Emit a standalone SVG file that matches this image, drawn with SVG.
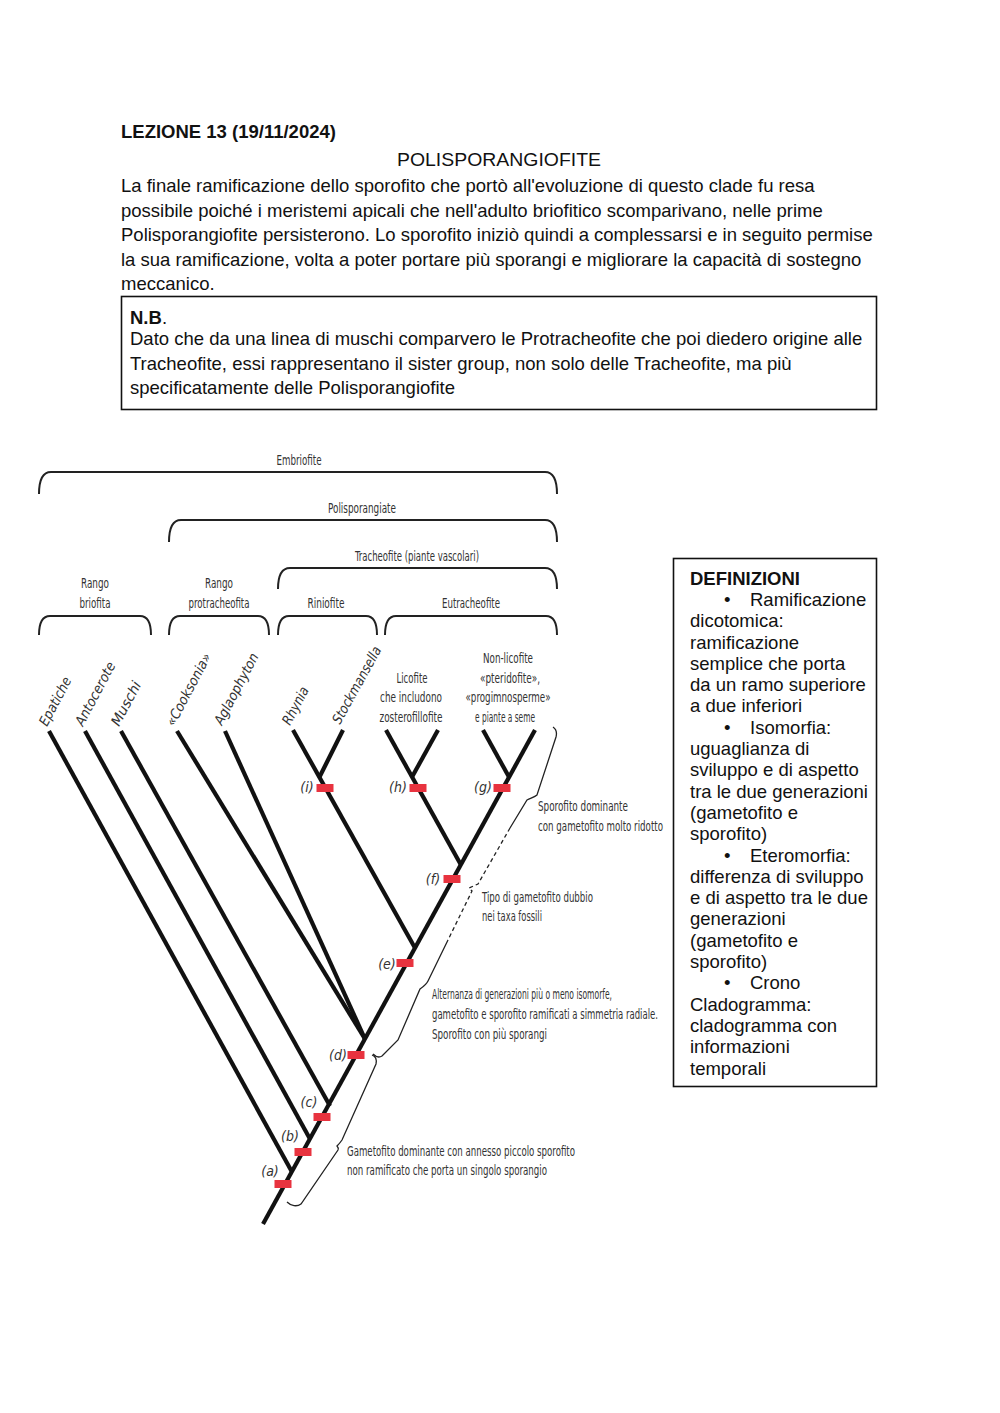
<svg xmlns="http://www.w3.org/2000/svg" width="1000" height="1413" viewBox="0 0 1000 1413">
<style>
.t{font-family:"Liberation Sans",Arial,sans-serif;font-size:18.5px;fill:#111}
.b{font-weight:bold}
.d{font-family:"Liberation Sans Narrow","DejaVu Sans Condensed","Liberation Sans",sans-serif;font-size:14px;fill:#333}
.i{font-style:italic}
.m{text-anchor:middle}
.br{stroke:#111;stroke-width:4.2;fill:none}
.bk{stroke:#222;stroke-width:2;fill:none}
.bc{stroke:#222;stroke-width:1.3;fill:none}
.ds{stroke-dasharray:4 3}
.mk{fill:#e8333f}
.box{fill:none;stroke:#111;stroke-width:1.6}
</style>
<rect width="1000" height="1413" fill="#fff"/>

<g id="header">
<text class="t b" x="121" y="138">LEZIONE 13 (19/11/2024)</text>
<text class="t" x="397" y="166" font-size="17" textLength="204" lengthAdjust="spacingAndGlyphs">POLISPORANGIOFITE</text>
<text class="t" x="121" y="192">La finale ramificazione dello sporofito che portò all'evoluzione di questo clade fu resa</text>
<text class="t" x="121" y="216.5">possibile poiché i meristemi apicali che nell'adulto briofitico scomparivano, nelle prime</text>
<text class="t" x="121" y="241">Polisporangiofite persisterono. Lo sporofito iniziò quindi a complessarsi e in seguito permise</text>
<text class="t" x="121" y="265.5">la sua ramificazione, volta a poter portare più sporangi e migliorare la capacità di sostegno</text>
<text class="t" x="121" y="290">meccanico.</text>
</g>

<g id="nb-box">
<rect class="box" x="121.5" y="296.5" width="755" height="113"/>
<text class="t" x="130" y="324"><tspan class="b">N.B</tspan>.</text>
<text class="t" x="130" y="345">Dato che da una linea di muschi comparvero le Protracheofite che poi diedero origine alle</text>
<text class="t" x="130" y="369.5">Tracheofite, essi rappresentano il sister group, non solo delle Tracheofite, ma più</text>
<text class="t" x="130" y="394">specificatamente delle Polisporangiofite</text>
</g>

<g id="definizioni">
<rect class="box" x="673.5" y="558.5" width="203" height="528"/>
<text class="t b" x="690" y="584.6">DEFINIZIONI</text>
<text class="t" x="724" y="605.9">•<tspan x="750">Ramificazione</tspan></text>
<text class="t" x="690" y="627.2">dicotomica:</text>
<text class="t" x="690" y="648.5">ramificazione</text>
<text class="t" x="690" y="669.8">semplice che porta</text>
<text class="t" x="690" y="691.1">da un ramo superiore</text>
<text class="t" x="690" y="712.4">a due inferiori</text>
<text class="t" x="724" y="733.7">•<tspan x="750">Isomorfia:</tspan></text>
<text class="t" x="690" y="755">uguaglianza di</text>
<text class="t" x="690" y="776.3">sviluppo e di aspetto</text>
<text class="t" x="690" y="797.6">tra le due generazioni</text>
<text class="t" x="690" y="818.9">(gametofito e</text>
<text class="t" x="690" y="840.2">sporofito)</text>
<text class="t" x="724" y="861.5">•<tspan x="750">Eteromorfia:</tspan></text>
<text class="t" x="690" y="882.8">differenza di sviluppo</text>
<text class="t" x="690" y="904.1">e di aspetto tra le due</text>
<text class="t" x="690" y="925.4">generazioni</text>
<text class="t" x="690" y="946.7">(gametofito e</text>
<text class="t" x="690" y="968">sporofito)</text>
<text class="t" x="724" y="989.3">•<tspan x="750">Crono</tspan></text>
<text class="t" x="690" y="1010.6">Cladogramma:</text>
<text class="t" x="690" y="1031.9">cladogramma con</text>
<text class="t" x="690" y="1053.2">informazioni</text>
<text class="t" x="690" y="1074.5">temporali</text>
</g>

<g id="clade-brackets">
<g id="clade-embriofite">
<path class="bk" d="M39,494 C39,481 42,472 51,472 L545,472 C554,472 557,481 557,494"/>
<text class="d m" x="299" y="465" textLength="45" lengthAdjust="spacingAndGlyphs">Embriofite</text>
</g>
<g id="clade-polisporangiate">
<path class="bk" d="M169,542 C169,529 172,520 181,520 L545,520 C554,520 557,529 557,542"/>
<text class="d m" x="362" y="513" textLength="68" lengthAdjust="spacingAndGlyphs">Polisporangiate</text>
</g>
<g id="clade-tracheofite">
<path class="bk" d="M278,589 C278,577 281,568 290,568 L545,568 C554,568 557,577 557,589"/>
<text class="d m" x="417" y="561" textLength="124" lengthAdjust="spacingAndGlyphs">Tracheofite (piante vascolari)</text>
</g>
<g id="clade-briofita">
<path class="bk" d="M39,635 C39,624 42,616 50,616 L140,616 C148,616 151,624 151,635"/>
<text class="d m" x="95" y="588" textLength="28" lengthAdjust="spacingAndGlyphs">Rango</text>
<text class="d m" x="95" y="608" textLength="31" lengthAdjust="spacingAndGlyphs">briofita</text>
</g>
<g id="clade-protracheofita">
<path class="bk" d="M169,635 C169,624 172,616 180,616 L258,616 C266,616 269,624 269,635"/>
<text class="d m" x="219" y="588" textLength="28" lengthAdjust="spacingAndGlyphs">Rango</text>
<text class="d m" x="219" y="608" textLength="61" lengthAdjust="spacingAndGlyphs">protracheofita</text>
</g>
<g id="clade-riniofite">
<path class="bk" d="M278,635 C278,624 281,616 289,616 L366,616 C374,616 377,624 377,635"/>
<text class="d m" x="326" y="608" textLength="37" lengthAdjust="spacingAndGlyphs">Riniofite</text>
</g>
<g id="clade-eutracheofite">
<path class="bk" d="M385,635 C385,624 388,616 396,616 L546,616 C554,616 557,624 557,635"/>
<text class="d m" x="471" y="608" textLength="58" lengthAdjust="spacingAndGlyphs">Eutracheofite</text>
</g>
</g>

<g id="connectors">
<line class="br" x1="263" y1="1224" x2="535" y2="730"/>
<line class="br" x1="49" y1="731" x2="292" y2="1172"/>
<line class="br" x1="85" y1="731" x2="310" y2="1139"/>
<line class="br" x1="121" y1="731" x2="330" y2="1106"/>
<line class="br" x1="177" y1="731" x2="365" y2="1039"/>
<line class="br" x1="225" y1="731" x2="365" y2="1039"/>
<line class="br" x1="293" y1="730" x2="415" y2="948"/>
<line class="br" x1="343" y1="730" x2="319" y2="778"/>
<line class="br" x1="386" y1="730" x2="461" y2="865"/>
<line class="br" x1="438" y1="730" x2="412" y2="777"/>
<line class="br" x1="483" y1="730" x2="509" y2="777"/>
</g>

<g id="braces">
<path class="bc" d="M553,727 C556,729 557,733 556,737 L537,795 C535,797 531,798 527,800 L510,828"/>
<path class="bc ds" d="M510,828 L478,884 L469,888 L472,891 L448,940"/>
<path class="bc" d="M448,940 L428,981 C426,985 423,987 420,989 L398,1040 L382,1056 C379,1058 376,1057 373,1054"/>
<path class="bc" d="M372,1055 C375,1056 377,1059 376,1064 L342,1140 C340,1143 338,1145 337,1146 C338,1147 339,1148 338,1150 L301,1204 C297,1207 291,1206 287,1202"/>
</g>

<g id="taxa">
<g id="taxon-epatiche"><text class="d i" transform="translate(47,727) rotate(-62)" textLength="53" lengthAdjust="spacingAndGlyphs">Epatiche</text></g>
<g id="taxon-antocerote"><text class="d i" transform="translate(83,727) rotate(-62)" textLength="70" lengthAdjust="spacingAndGlyphs">Antocerote</text></g>
<g id="taxon-muschi"><text class="d i" transform="translate(119,727) rotate(-62)" textLength="48" lengthAdjust="spacingAndGlyphs">Muschi</text></g>
<g id="taxon-cooksonia"><text class="d i" transform="translate(174,727) rotate(-62)" textLength="80" lengthAdjust="spacingAndGlyphs">«Cooksonia»</text></g>
<g id="taxon-aglaophyton"><text class="d i" transform="translate(222,726) rotate(-62)" textLength="79" lengthAdjust="spacingAndGlyphs">Aglaophyton</text></g>
<g id="taxon-rhynia"><text class="d i" transform="translate(290,726) rotate(-62)" textLength="41" lengthAdjust="spacingAndGlyphs">Rhynia</text></g>
<g id="taxon-stockmansella"><text class="d i" transform="translate(340,725) rotate(-61)" textLength="86" lengthAdjust="spacingAndGlyphs">Stockmansella</text></g>
<g id="taxon-licofite">
<text class="d m" x="412" y="683" textLength="31" lengthAdjust="spacingAndGlyphs">Licofite</text>
<text class="d m" x="411" y="702" textLength="62" lengthAdjust="spacingAndGlyphs">che includono</text>
<text class="d m" x="411" y="722" textLength="63" lengthAdjust="spacingAndGlyphs">zosterofillofite</text>
</g>
<g id="taxon-nonlicofite">
<text class="d m" x="508" y="663" textLength="50" lengthAdjust="spacingAndGlyphs">Non-licofite</text>
<text class="d m" x="510" y="683" textLength="60" lengthAdjust="spacingAndGlyphs">«pteridofite»,</text>
<text class="d m" x="508" y="702" textLength="85" lengthAdjust="spacingAndGlyphs">«progimnosperme»</text>
<text class="d m" x="505" y="722" textLength="60" lengthAdjust="spacingAndGlyphs">e piante a seme</text>
</g>
</g>

<g id="markers">
<g id="node-a"><rect class="mk" x="274.5" y="1180" width="17" height="8"/><text class="d i m" x="270" y="1176">(a)</text></g>
<g id="node-b"><rect class="mk" x="294.5" y="1148" width="17" height="8"/><text class="d i m" x="290" y="1141">(b)</text></g>
<g id="node-c"><rect class="mk" x="313.5" y="1113" width="17" height="8"/><text class="d i m" x="309" y="1107">(c)</text></g>
<g id="node-d"><rect class="mk" x="347.5" y="1051" width="17" height="8"/><text class="d i m" x="338" y="1060">(d)</text></g>
<g id="node-e"><rect class="mk" x="396.5" y="959" width="17" height="8"/><text class="d i m" x="387" y="969">(e)</text></g>
<g id="node-f"><rect class="mk" x="443.5" y="875" width="17" height="8"/><text class="d i m" x="433" y="884">(f)</text></g>
<g id="node-g"><rect class="mk" x="493.5" y="784" width="17" height="8"/><text class="d i m" x="483" y="792">(g)</text></g>
<g id="node-h"><rect class="mk" x="409.5" y="784" width="17" height="8"/><text class="d i m" x="398" y="792">(h)</text></g>
<g id="node-i"><rect class="mk" x="316.5" y="784" width="17" height="8"/><text class="d i m" x="307" y="792">(i)</text></g>
</g>

<g id="annotations">
<g id="note-sporofito">
<text class="d" x="538" y="811" textLength="90" lengthAdjust="spacingAndGlyphs">Sporofito dominante</text>
<text class="d" x="538" y="831" textLength="125" lengthAdjust="spacingAndGlyphs">con gametofito molto ridotto</text>
</g>
<g id="note-tipo">
<text class="d" x="482" y="902" textLength="111" lengthAdjust="spacingAndGlyphs">Tipo di gametofito dubbio</text>
<text class="d" x="482" y="921" textLength="60" lengthAdjust="spacingAndGlyphs">nei taxa fossili</text>
</g>
<g id="note-alternanza">
<text class="d" x="432" y="999" textLength="180" lengthAdjust="spacingAndGlyphs">Alternanza di generazioni più o meno isomorfe,</text>
<text class="d" x="432" y="1019" textLength="226" lengthAdjust="spacingAndGlyphs">gametofito e sporofito ramificati a simmetria radiale.</text>
<text class="d" x="432" y="1039" textLength="115" lengthAdjust="spacingAndGlyphs">Sporofito con più sporangi</text>
</g>
<g id="note-gametofito">
<text class="d" x="347" y="1156" textLength="228" lengthAdjust="spacingAndGlyphs">Gametofito dominante con annesso piccolo sporofito</text>
<text class="d" x="347" y="1175" textLength="200" lengthAdjust="spacingAndGlyphs">non ramificato che porta un singolo sporangio</text>
</g>
</g>
</svg>
